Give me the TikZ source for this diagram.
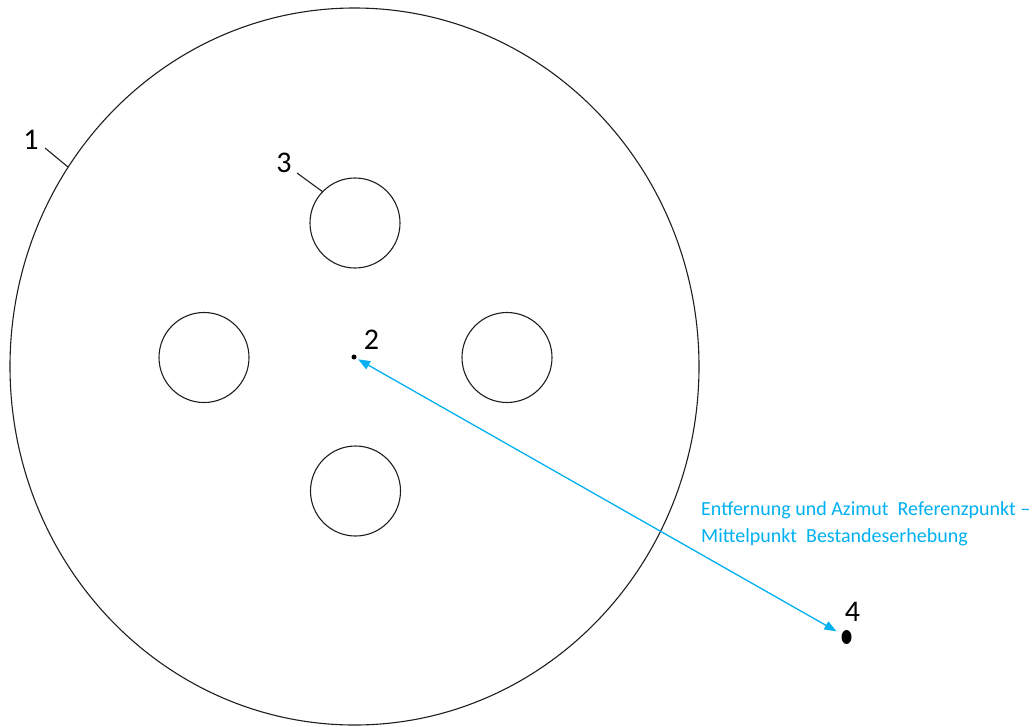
\documentclass[tikz,border=0pt]{standalone}
\usepackage{fontspec}
\setmainfont{Carlito}
\usetikzlibrary{shapes.geometric,arrows.meta}
\definecolor{arrowblue}{RGB}{0,176,240}
\definecolor{linegray}{RGB}{30,30,30}
\tikzset{
  plotline/.style={draw=linegray, line width=1.1pt},
  subplot/.style={circle, plotline, minimum size=90pt, inner sep=0pt},
  numlabel/.style={inner sep=0pt, font=\fontsize{30}{30}\selectfont},
  leader/.style={draw=linegray, line width=1.1pt},
  measure/.style={draw=arrowblue, line width=1.3pt, {Triangle[length=12pt,width=9pt]}-{Triangle[length=12pt,width=9pt]}},
  bluetext/.style={text=arrowblue, font=\fontsize{20}{27}\selectfont, align=left, inner sep=0pt, anchor=north west}
}
\begin{document}
\begin{tikzpicture}[x=1pt,y=-1pt]
\useasboundingbox (0,0) rectangle (1032,726);
% main plot
\node[ellipse, plotline, minimum width=689pt, minimum height=717pt, inner sep=0pt] (plot) at (354.5,366.5) {};
% sub plots
\node[subplot] (s1) at (355,223) {};
\node[subplot] (s2) at (204,357.5) {};
\node[subplot] (s3) at (507,357.5) {};
\node[subplot] (s4) at (355.5,491) {};
% centre point and reference point
\node[circle, fill=black, minimum size=5pt, inner sep=0pt] (p2) at (354,357) {};
\node[ellipse, fill=black, minimum width=10pt, minimum height=14pt, inner sep=0pt] (p4) at (846.5,637) {};
% labels
\node[numlabel] (l1) at (31,140) {1};
\node[numlabel] (l2) at (371.5,340) {2};
\node[numlabel] (l3) at (284,162.5) {3};
\node[numlabel] (l4) at (852.5,611.5) {4};
% leaders
\coordinate (a1) at (45,148);
\coordinate (b1) at (68,167);
\coordinate (a3) at (297,173);
\coordinate (b3) at (323,192);
\draw[leader] (a1) -- (b1);
\draw[leader] (a3) -- (b3);
% measurement arrow
\draw[measure, shorten <=2pt, shorten >=6pt] (p2) -- (p4);
\node[bluetext] (txt) at (701,501.5) {Entfernung und Azimut\ \ Referenzpunkt –\\Mittelpunkt\ \ Bestandeserhebung};
\end{tikzpicture}
\end{document}
